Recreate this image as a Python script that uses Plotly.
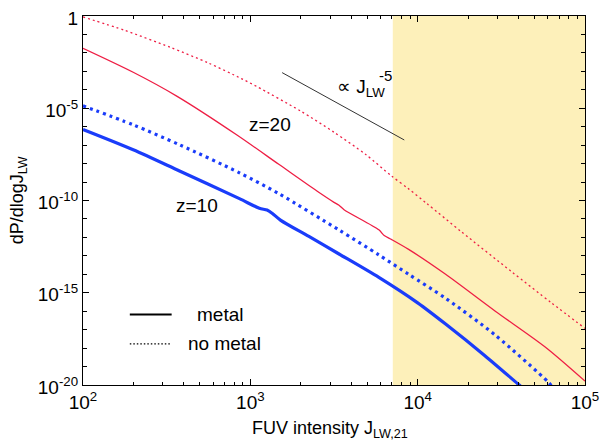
import numpy as np
import plotly.graph_objects as go

# ---- data (log10 values) ----
red_nometal_logJ = [2.0, 2.25, 2.52, 2.75, 2.946, 3.036, 3.3, 3.5, 3.69, 3.845, 3.946, 4.054, 4.262, 4.56, 4.80, 5.0]
red_nometal_logP = [-0.05, -0.78, -1.69, -2.55, -3.39, -3.81, -5.15, -6.3, -7.51, -8.68, -9.37, -10.16, -11.7, -13.85, -15.55, -16.93]

red_metal_logJ = [2.0, 2.3, 2.56, 2.92, 3.17, 3.4, 3.5, 3.53, 3.56, 3.768, 3.80, 3.845, 3.946, 4.167, 4.464, 4.762, 5.0]
red_metal_logP = [-1.75, -3.05, -4.34, -6.45, -8.04, -9.5, -10.1, -10.26, -10.5, -11.59, -11.9, -12.12, -12.65, -14.0, -16.0, -17.94, -19.79]

blue_nometal_logJ = [2.0, 2.3, 2.577, 2.935, 3.17, 3.53, 3.768, 3.946, 4.167, 4.464, 4.78, 4.80]
blue_nometal_logP = [-4.87, -5.9, -6.98, -8.5, -9.63, -11.6, -12.95, -14.0, -15.3, -17.3, -19.84, -20.05]

blue_metal_logJ = [2.0, 2.3, 2.577, 2.935, 3.054, 3.10, 3.13, 3.18, 3.35, 3.53, 3.768, 4.0, 4.167, 4.4, 4.60, 4.62]
blue_metal_logP = [-6.15, -7.25, -8.4, -9.9, -10.42, -10.52, -10.69, -11.06, -11.95, -12.9, -14.17, -15.55, -16.7, -18.4, -19.95, -20.1]

slope_logJ = [3.19, 3.92]
slope_logP = [-3.07, -6.72]

band_J = [7.1e3, 1e5]

x_tick_vals = [1e2, 1e3, 1e4, 1e5]
x_tick_text = ["10<sup>2</sup>", "10<sup>3</sup>", "10<sup>4</sup>", "10<sup>5</sup>"]
y_tick_vals = [1e-20, 1e-15, 1e-10, 1e-5, 1]
y_tick_text = ["10<sup>-20</sup>", "10<sup>-15</sup>", "10<sup>-10</sup>", "10<sup>-5</sup>", "1"]

RED = "#EE1E44"
BLUE = "#1A3CFA"
FONT = "Liberation Sans, Arial, Helvetica, sans-serif"

def p(a):
    return 10 ** np.array(a, dtype=float)

fig = go.Figure()

# yellow band
fig.add_trace(go.Scatter(x=[band_J[0], band_J[1], band_J[1], band_J[0], band_J[0]],
                         y=[1e-20, 1e-20, 1, 1, 1e-20], fill="toself",
                         fillcolor="#FDF0BA", line=dict(width=0), mode="lines",
                         hoverinfo="skip", showlegend=False))

SM = 0.8
fig.add_trace(go.Scatter(x=p(red_nometal_logJ), y=p(red_nometal_logP), mode="lines",
                         line=dict(color=RED, width=1.3, dash="2px,3px", shape="spline", smoothing=SM),
                         showlegend=False))
fig.add_trace(go.Scatter(x=p(red_metal_logJ), y=p(red_metal_logP), mode="lines",
                         line=dict(color=RED, width=1.3, shape="spline", smoothing=SM), showlegend=False))
fig.add_trace(go.Scatter(x=p(blue_nometal_logJ), y=p(blue_nometal_logP), mode="lines",
                         line=dict(color=BLUE, width=3.2, dash="3px,4px", shape="spline", smoothing=SM),
                         showlegend=False))
fig.add_trace(go.Scatter(x=p(blue_metal_logJ), y=p(blue_metal_logP), mode="lines",
                         line=dict(color=BLUE, width=3.2, shape="spline", smoothing=SM), showlegend=False))
fig.add_trace(go.Scatter(x=p(slope_logJ), y=p(slope_logP), mode="lines",
                         line=dict(color="#333333", width=1), showlegend=False))

axis_common = dict(type="log", showline=True, linecolor="black", linewidth=1.2,
                   mirror="allticks", ticks="inside", ticklen=6, tickcolor="black",
                   showgrid=False, zeroline=False, ticklabeloverflow="allow",
                   tickfont=dict(family=FONT, size=19, color="black"))

minor_x = [m * 10 ** e for e in (2, 3, 4) for m in range(2, 10)]
minor_y = [10.0 ** e for e in range(-20, 1) if e % 5 != 0]

fig.update_xaxes(range=[2, 5], tickmode="array", tickvals=x_tick_vals, ticktext=x_tick_text,
                 minor=dict(tickmode="array", tickvals=minor_x, ticks="inside", ticklen=3,
                            tickcolor="black", showgrid=False),
                 **axis_common)
fig.update_yaxes(range=[-20, 0], tickmode="array", tickvals=y_tick_vals, ticktext=y_tick_text,
                 ticklabelshift=2,
                 minor=dict(tickmode="array", tickvals=minor_y, ticks="inside", ticklen=4,
                            tickcolor="black", showgrid=False),
                 **axis_common)

W, H = 607, 448
L, R, T, B = 83, 20, 8, 63
pw, ph = W - L - R, H - T - B

def px(xp):
    return (xp - L) / pw

def py(yp):
    return (H - B - yp) / ph

annos = [
    dict(text="FUV intensity J<sub>LW,21</sub>", x=px(331), y=py(430), size=18, angle=0),
    dict(text="dP/dlogJ<sub>LW</sub>", x=px(18), y=py(196), size=18, angle=-90),
    dict(text="metal", x=px(221), y=py(313), size=19, angle=0),
    dict(text="no metal", x=px(225), y=py(343), size=19, angle=0),
]
for a in annos:
    fig.add_annotation(text=a["text"], x=a["x"], y=a["y"], xref="paper", yref="paper",
                       xanchor="center", yanchor="middle", showarrow=False, textangle=a["angle"],
                       font=dict(family=FONT, size=a["size"], color="black"))

# in-plot labels (log10 coordinates on log axes)
fig.add_annotation(text="z=20", x=3.119, y=-5.87, showarrow=False,
                   font=dict(family=FONT, size=19, color="black"))
fig.add_annotation(text="z=10", x=2.679, y=-10.26, showarrow=False,
                   font=dict(family=FONT, size=19, color="black"))
fig.add_annotation(text="\u221d J<sub>LW</sub>", x=3.66, y=-3.9, showarrow=False,
                   font=dict(family=FONT, size=19, color="black"))
fig.add_annotation(text="-5", x=3.81, y=-3.25, showarrow=False,
                   font=dict(family=FONT, size=15, color="black"))

# legend lines
fig.add_shape(type="line", xref="paper", yref="paper", x0=px(130), x1=px(172), y0=py(313), y1=py(313),
              line=dict(color="black", width=2))
fig.add_shape(type="line", xref="paper", yref="paper", x0=px(130), x1=px(172), y0=py(343), y1=py(343),
              line=dict(color="black", width=1.2, dash="1.5px,2px"))

fig.update_layout(width=W, height=H, margin=dict(l=L, r=R, t=T, b=B),
                  paper_bgcolor="white", plot_bgcolor="white", showlegend=False)

fig.write_html("out.html")
